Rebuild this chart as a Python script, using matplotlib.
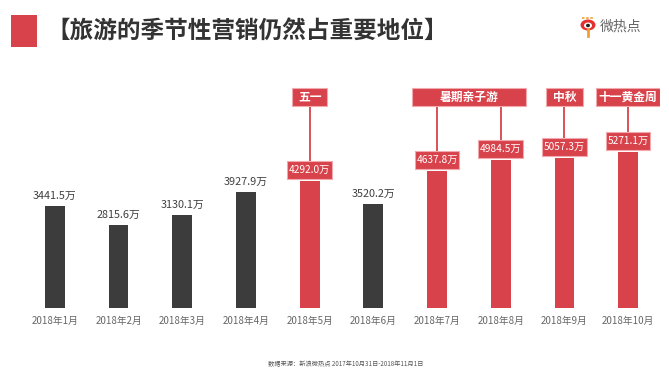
import matplotlib
matplotlib.use("Agg")
import matplotlib.pyplot as plt
from matplotlib.patches import Rectangle, Ellipse
from matplotlib.lines import Line2D

plt.rcParams['font.family'] = ['Noto Sans CJK SC', 'DejaVu Sans']

months = ["2018年1月", "2018年2月", "2018年3月", "2018年4月", "2018年5月",
          "2018年6月", "2018年7月", "2018年8月", "2018年9月", "2018年10月"]
values = [3441.5, 2815.6, 3130.1, 3927.9, 4292.0, 3520.2, 4637.8, 4984.5, 5057.3, 5271.1]
highlight = [False, False, False, False, True, False, True, True, True, True]
events = ["五一", "暑期亲子游", "中秋", "十一黄金周"]
event_bars = [[4], [6, 7], [8], [9]]
event_widths = [0.55, 1.8, 0.57, 1.0]

RED = "#d8434b"
DARK = "#3c3c3c"
EDGE = "#f2a9ad"

W, H = 669, 384
fig = plt.figure(figsize=(W / 100, H / 100), dpi=100)
fig.patch.set_facecolor("white")

ax_left, ax_right, ax_bottom, ax_top = 23, 660, 308, 60
ax = fig.add_axes([ax_left / W, (H - ax_bottom) / H, (ax_right - ax_left) / W, (ax_bottom - ax_top) / H])
ppu = 0.02964  # pixels per unit
ymax = (ax_bottom - ax_top) / ppu
ax.set_xlim(-0.5, len(months) - 0.5)
ax.set_ylim(0, ymax)
for s in ax.spines.values():
    s.set_visible(False)
ax.set_yticks([])
ax.set_xticks(range(len(months)))
ax.set_xticklabels(months, fontsize=7, color="#666666")
ax.tick_params(axis="x", length=0, pad=6)

colors = [RED if h else DARK for h in highlight]
ax.bar(range(len(months)), values, width=0.31, color=colors)

px = 1 / ppu  # one pixel in data units
box_h = 18 * px
box_w = 0.70
for i, (v, h) in enumerate(zip(values, highlight)):
    if h:
        y0 = v + 2 * px
        ax.add_patch(Rectangle((i - box_w / 2, y0), box_w, box_h, facecolor=RED,
                               edgecolor=EDGE, linewidth=0.8, zorder=3))
        ax.text(i, y0 + box_h / 2, f"{v:.1f}万", ha="center", va="center",
                fontsize=7.3, color="white", zorder=4)
    else:
        ax.text(i, v + 5 * px, f"{v:.1f}万", ha="center", va="bottom",
                fontsize=7.8, color="#404040")

ev_center = (ax_bottom - 97) / ppu
for name, bars, w in zip(events, event_bars, event_widths):
    cx = sum(bars) / len(bars)
    ax.add_patch(Rectangle((cx - w / 2, ev_center - box_h / 2), w, box_h,
                           facecolor=RED, edgecolor=EDGE, linewidth=0.8, zorder=3))
    ax.text(cx, ev_center, name, ha="center", va="center", fontsize=8.5,
            color="white", fontweight="bold", zorder=4)
    for b in bars:
        ax.plot([b, b], [values[b] + 2 * px + box_h, ev_center - box_h / 2],
                color=RED, linewidth=1.3, zorder=2)

# Title
fig.patches.append(Rectangle((11 / W, 1 - 47 / H), 26 / W, 32 / H,
                             transform=fig.transFigure, facecolor=RED, edgecolor="none"))
fig.text(46 / W, 1 - 31 / H, "【旅游的季节性营销仍然占重要地位】", fontsize=17,
         fontweight="bold", color="#333333", ha="left", va="center")

# Logo
def fxy(x, y):
    return (x / W, 1 - y / H)

fig.lines.append(Line2D([588 / W, 588 / W], [1 - 29 / H, 1 - 36 / H],
                        transform=fig.transFigure, color="#f0a030", linewidth=2))
fig.patches.append(Ellipse(fxy(588, 25), 15 / W, 11 / H, transform=fig.transFigure,
                           facecolor="#e2312e", edgecolor="none"))
fig.patches.append(Ellipse(fxy(588, 25.5), 8 / W, 6 / H, transform=fig.transFigure,
                           facecolor="white", edgecolor="none"))
fig.patches.append(Ellipse(fxy(588, 25.5), 4 / W, 3.5 / H, transform=fig.transFigure,
                           facecolor="#222222", edgecolor="none"))
fig.lines.append(Line2D([582 / W, 594 / W], [1 - 18 / H, 1 - 18 / H],
                        transform=fig.transFigure, color="#f0a030", linewidth=1.2,
                        linestyle=(0, (1.5, 1))))
fig.text(600 / W, 1 - 27 / H, "微热点", fontsize=10, color="#666666", ha="left", va="center")

# Source
fig.text(346 / W, 1 - 364 / H, "数据来源：新浪微热点 2017年10月31日-2018年11月1日",
         fontsize=4.5, color="#555555", ha="center", va="center")

fig.savefig("out.png", dpi=100)
